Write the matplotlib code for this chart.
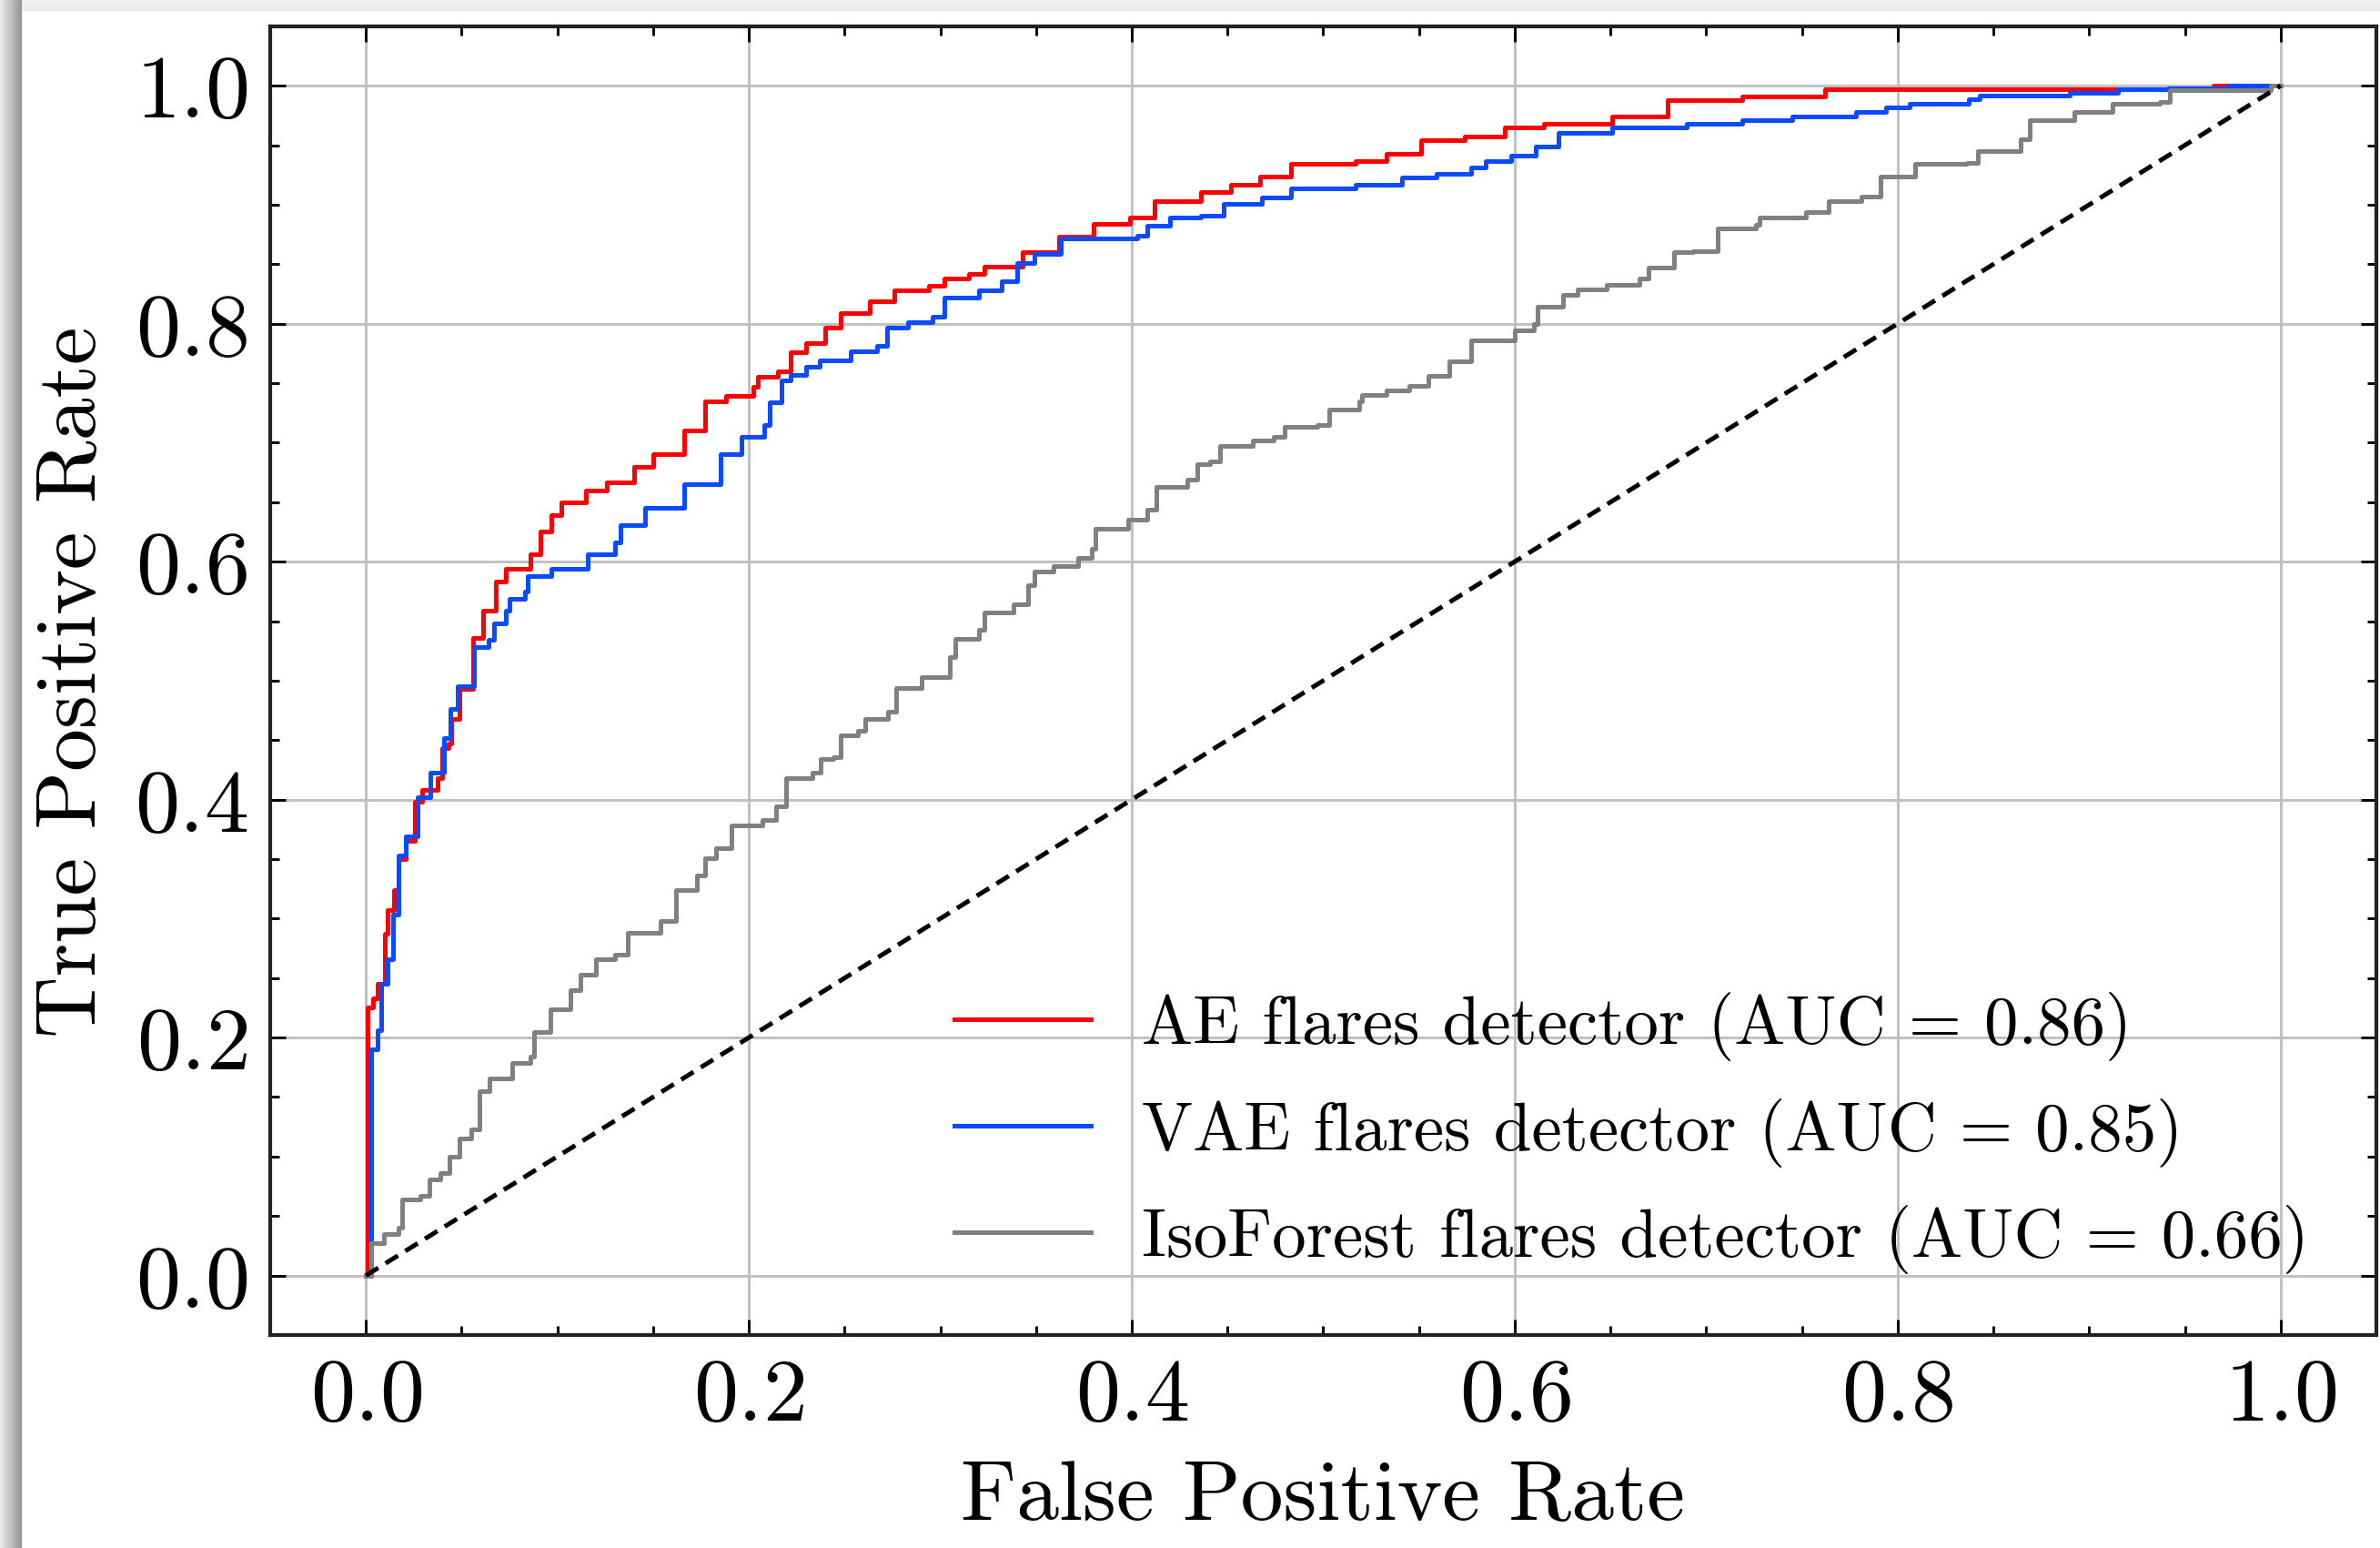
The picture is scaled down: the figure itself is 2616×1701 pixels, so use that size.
import numpy as np
import matplotlib
matplotlib.use("Agg")
import matplotlib.pyplot as plt

plt.rcParams['font.family'] = 'serif'
plt.rcParams['font.serif'] = ['cmr10']
plt.rcParams['mathtext.fontset'] = 'cm'
plt.rcParams['axes.formatter.use_mathtext'] = True

# ROC points
ae_fpr = [0, 0.001, 0.0035, 0.006, 0.0098, 0.0114, 0.0146, 0.017, 0.021, 0.0257, 0.0296, 0.0376, 0.040, 0.043,
          0.0447, 0.049, 0.0558, 0.061, 0.068, 0.073, 0.086, 0.091, 0.097, 0.102, 0.115, 0.126, 0.14, 0.15, 0.166,
          0.177, 0.188, 0.2025, 0.2047, 0.215, 0.222, 0.23, 0.24, 0.248, 0.263, 0.276, 0.294, 0.302, 0.315, 0.323,
          0.343, 0.362, 0.380, 0.399, 0.412, 0.436, 0.452, 0.467, 0.483, 0.517, 0.533, 0.551, 0.574, 0.595, 0.615,
          0.651, 0.68, 0.719, 0.762, 0.965, 1.0]
ae_tpr = [0, 0.225, 0.233, 0.245, 0.287, 0.307, 0.324, 0.35, 0.365, 0.398, 0.408, 0.418, 0.443, 0.447,
          0.468, 0.493, 0.536, 0.559, 0.583, 0.594, 0.606, 0.625, 0.639, 0.650, 0.660, 0.667, 0.680, 0.690, 0.710,
          0.735, 0.739, 0.747, 0.755, 0.760, 0.776, 0.784, 0.797, 0.809, 0.819, 0.828, 0.832, 0.838, 0.842, 0.848,
          0.860, 0.873, 0.884, 0.889, 0.903, 0.911, 0.917, 0.924, 0.934, 0.937, 0.943, 0.954, 0.957, 0.965, 0.968,
          0.974, 0.988, 0.991, 0.997, 1.0, 1.0]

vae_fpr = [0, 0.003, 0.006, 0.008, 0.0114, 0.0143, 0.017, 0.021, 0.027, 0.0336, 0.041, 0.044, 0.048, 0.0566,
           0.064, 0.067, 0.073, 0.075, 0.083, 0.0843, 0.097, 0.116, 0.13, 0.133, 0.146, 0.166, 0.185, 0.196, 0.208,
           0.211, 0.217, 0.222, 0.23, 0.237, 0.253, 0.267, 0.272, 0.283, 0.296, 0.302, 0.32, 0.332, 0.34, 0.349,
           0.363, 0.403, 0.408, 0.42, 0.436, 0.448, 0.468, 0.483, 0.517, 0.541, 0.559, 0.577, 0.585, 0.598, 0.611,
           0.623, 0.651, 0.69, 0.719, 0.745, 0.778, 0.794, 0.806, 0.837, 0.843, 0.89, 0.915, 0.941, 0.973, 1.0]
vae_tpr = [0, 0.19, 0.206, 0.245, 0.266, 0.303, 0.353, 0.369, 0.402, 0.423, 0.452, 0.476, 0.495, 0.528,
           0.534, 0.548, 0.559, 0.569, 0.575, 0.588, 0.594, 0.606, 0.616, 0.631, 0.645, 0.665, 0.690, 0.705, 0.715,
           0.734, 0.752, 0.757, 0.764, 0.769, 0.777, 0.781, 0.797, 0.801, 0.806, 0.822, 0.828, 0.836, 0.851, 0.859,
           0.872, 0.874, 0.882, 0.889, 0.891, 0.901, 0.906, 0.914, 0.917, 0.923, 0.926, 0.931, 0.937, 0.941, 0.949,
           0.96, 0.965, 0.968, 0.971, 0.974, 0.978, 0.982, 0.985, 0.989, 0.992, 0.994, 0.997, 0.998, 1.0, 1.0]

iso_fpr = [0, 0.003, 0.0095, 0.017, 0.019, 0.0286, 0.033, 0.039, 0.0435, 0.049, 0.055, 0.0594, 0.0647, 0.0764,
           0.086, 0.088, 0.0965, 0.107, 0.112, 0.12, 0.13, 0.137, 0.154, 0.162, 0.173, 0.177, 0.183, 0.191, 0.207,
           0.214, 0.2195, 0.233, 0.2375, 0.244, 0.248, 0.257, 0.261, 0.2725, 0.277, 0.29, 0.305, 0.308, 0.32, 0.323,
           0.338, 0.346, 0.349, 0.359, 0.372, 0.379, 0.381, 0.398, 0.408, 0.413, 0.429, 0.434, 0.441, 0.446, 0.463,
           0.474, 0.48, 0.497, 0.503, 0.519, 0.52, 0.533, 0.545, 0.555, 0.566, 0.577, 0.60, 0.61, 0.612, 0.625,
           0.633, 0.648, 0.665, 0.67, 0.683, 0.693, 0.706, 0.726, 0.728, 0.752, 0.764, 0.781, 0.791, 0.809, 0.836,
           0.842, 0.864, 0.869, 0.892, 0.912, 0.937, 0.942, 0.995, 1.0]
iso_tpr = [0, 0.027, 0.035, 0.04, 0.064, 0.067, 0.081, 0.086, 0.10, 0.115, 0.123, 0.155, 0.166, 0.179,
           0.184, 0.205, 0.224, 0.24, 0.253, 0.266, 0.27, 0.288, 0.298, 0.324, 0.336, 0.351, 0.359, 0.378, 0.383,
           0.394, 0.418, 0.423, 0.434, 0.436, 0.454, 0.458, 0.468, 0.474, 0.494, 0.503, 0.52, 0.535, 0.543, 0.557,
           0.564, 0.58, 0.592, 0.596, 0.603, 0.611, 0.628, 0.635, 0.644, 0.663, 0.669, 0.682, 0.684, 0.697, 0.702,
           0.705, 0.713, 0.715, 0.728, 0.735, 0.740, 0.744, 0.748, 0.756, 0.768, 0.786, 0.794, 0.80, 0.814, 0.824,
           0.829, 0.833, 0.838, 0.847, 0.86, 0.861, 0.88, 0.883, 0.889, 0.894, 0.903, 0.907, 0.924, 0.934, 0.935,
           0.945, 0.955, 0.971, 0.978, 0.985, 0.986, 0.996, 1.0, 1.0]

model_names = ['AE', 'VAE', 'IsoForest']
auc_values = [0.86, 0.85, 0.66]
line_colors = ['#ff0000', '#0a4bff', '#808080']

fig = plt.figure(figsize=(8.72, 5.6733), dpi=300)
ax = fig.add_axes([0.1135, 0.1375, 0.885, 0.845])

curves = [(ae_fpr, ae_tpr), (vae_fpr, vae_tpr), (iso_fpr, iso_tpr)]
for (fpr, tpr), name, auc, col in zip(curves, model_names, auc_values, line_colors):
    ax.plot(fpr, tpr, drawstyle='steps-post', color=col, lw=1.2,
            label=f'{name} flares detector (AUC = {auc:.2f})')
ax.plot([0, 1], [0, 1], color='black', lw=1.2, linestyle=(0, (3.2, 1.9)))

ax.set_xlim(-0.05, 1.05)
ax.set_ylim(-0.05, 1.05)
ax.set_xticks([0, 0.2, 0.4, 0.6, 0.8, 1.0])
ax.set_yticks([0, 0.2, 0.4, 0.6, 0.8, 1.0])
ax.set_xticks(np.arange(0, 1.001, 0.05), minor=True)
ax.set_yticks(np.arange(0, 1.001, 0.05), minor=True)
ax.tick_params(which='both', direction='in', top=True, right=True, labelsize=23.5, width=0.7)
ax.tick_params(which='major', length=4, pad=6)
ax.tick_params(which='minor', length=2.4)
for s in ax.spines.values():
    s.set_linewidth(1.0)
    s.set_color('#222222')
ax.grid(True, color='#c0c0c0', lw=0.7)
ax.set_axisbelow(True)

ax.set_xlabel('False Positive Rate', fontsize=22.5, labelpad=6)
ax.set_ylabel('True Positive Rate', fontsize=22.5, labelpad=6)

ax.legend(loc='lower right', frameon=False, fontsize=18, handlelength=2.0,
          handletextpad=0.75, labelspacing=0.55, bbox_to_anchor=(0.997, 0.0))

# screenshot shadow along the left and top edges
shade_l = fig.add_axes([0, 0, 24 / 2616, 1])
shade_l.imshow(np.linspace(0.92, 0.58, 24)[None, :], cmap='gray', vmin=0, vmax=1, aspect='auto')
shade_l.axis('off')
shade_t = fig.add_axes([24 / 2616, 1 - 13 / 1702, 1, 13 / 1702])
shade_t.imshow(np.linspace(0.95, 0.91, 13)[:, None], cmap='gray', vmin=0, vmax=1, aspect='auto')
shade_t.axis('off')

fig.savefig('out.png', dpi=300)
